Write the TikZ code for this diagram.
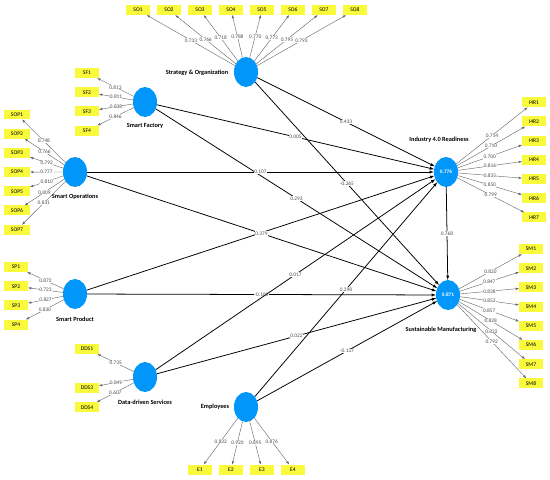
\documentclass[tikz,border=0pt]{standalone}
\usepackage{fontspec}
\setmainfont{Carlito}
\usetikzlibrary{shapes.geometric, arrows}
\definecolor{plsblue}{RGB}{0,150,250}
\definecolor{plsyellow}{RGB}{250,250,60}
\tikzstyle{latent} = [ellipse, minimum width=1.2cm, minimum height=1.5cm, inner sep=0pt, fill=plsblue, text=white, font=\fontsize{7.5}{8}\selectfont\bfseries]
\tikzstyle{indicator} = [rectangle, minimum width=1.2cm, minimum height=0.5cm, inner sep=1pt, fill=plsyellow, font=\fontsize{8}{9}\selectfont]
\tikzstyle{lvname} = [font=\fontsize{9}{10}\selectfont\bfseries]
\tikzstyle{structural} = [line width=1.1pt, ->, >=latex]
\tikzstyle{loading} = [line width=0.6pt, black!60, ->, >=latex]
\tikzstyle{coef} = [fill=white, inner sep=0.5pt, text=black!70, font=\fontsize{7.6}{8}\selectfont]

\begin{document}
\begin{tikzpicture}[x=0.05cm, y=-0.05cm, node distance=0.96cm]
\useasboundingbox (0,0) rectangle (550,480);

% constructs
\node (so) [latent] at (246,72) {};
\node (sf) [latent] at (145,102) {};
\node (sop) [latent] at (75,172) {};
\node (sp) [latent] at (75,294) {};
\node (dds) [latent] at (145,377) {};
\node (emp) [latent] at (246,407) {};
\node (ir) [latent] at (446,172) {0.776};
\node (sm) [latent] at (448,295) {0.871};

\node (soname) [lvname] at (197,73) {Strategy \& Organization};
\node (sfname) [lvname] at (145,126) {Smart Factory};
\node (sopname) [lvname] at (75,197) {Smart Operations};
\node (spname) [lvname] at (75,319) {Smart Product};
\node (ddsname) [lvname] at (145,402) {Data-driven Services};
\node (empname) [lvname] at (215,407) {Employees};
\node (irname) [lvname] at (439,140) {Industry 4.0 Readiness};
\node (smname) [lvname] at (441,330) {Sustainable Manufacturing};

% indicators
\node (so1) [indicator] at (138,10) {SO1};
\node (so2) [indicator, right of=so1, node distance=1.55cm] {SO2};
\node (so3) [indicator, right of=so2, node distance=1.55cm] {SO3};
\node (so4) [indicator, right of=so3, node distance=1.55cm] {SO4};
\node (so5) [indicator, right of=so4, node distance=1.55cm] {SO5};
\node (so6) [indicator, right of=so5, node distance=1.55cm] {SO6};
\node (so7) [indicator, right of=so6, node distance=1.55cm] {SO7};
\node (so8) [indicator, right of=so7, node distance=1.55cm] {SO8};

\node (sf1) [indicator] at (87,73) {SF1};
\node (sf2) [indicator, below of=sf1] {SF2};
\node (sf3) [indicator, below of=sf2] {SF3};
\node (sf4) [indicator, below of=sf3] {SF4};

\node (sop1) [indicator, minimum width=1.3cm] at (17,114.5) {SOP1};
\node (sop2) [indicator, minimum width=1.3cm, below of=sop1] {SOP2};
\node (sop3) [indicator, minimum width=1.3cm, below of=sop2] {SOP3};
\node (sop4) [indicator, minimum width=1.3cm, below of=sop3] {SOP4};
\node (sop5) [indicator, minimum width=1.3cm, below of=sop4] {SOP5};
\node (sop6) [indicator, minimum width=1.3cm, below of=sop5] {SOP6};
\node (sop7) [indicator, minimum width=1.3cm, below of=sop6] {SOP7};

\node (sp1) [indicator] at (16,267) {SP1};
\node (sp2) [indicator, below of=sp1] {SP2};
\node (sp3) [indicator, below of=sp2] {SP3};
\node (sp4) [indicator, below of=sp3] {SP4};

\node (dds1) [indicator] at (87,349) {DDS1};
\node (dds3) [indicator] at (87,388) {DDS3};
\node (dds4) [indicator, below of=dds3] {DDS4};

\node (e1) [indicator] at (200,469.5) {E1};
\node (e2) [indicator, right of=e1, node distance=1.55cm] {E2};
\node (e3) [indicator, right of=e2, node distance=1.55cm] {E3};
\node (e4) [indicator, right of=e3, node distance=1.55cm] {E4};

\node (hr1) [indicator] at (534,102.3) {I4R1};
\node (hr2) [indicator, below of=hr1] {I4R2};
\node (hr3) [indicator, below of=hr2] {I4R3};
\node (hr4) [indicator, below of=hr3] {I4R4};
\node (hr5) [indicator, below of=hr4] {I4R5};
\node (hr6) [indicator, below of=hr5] {I4R6};
\node (hr7) [indicator, below of=hr6] {I4R7};

\node (sm1) [indicator] at (531,249) {SM1};
\node (sm2) [indicator, below of=sm1] {SM2};
\node (sm3) [indicator, below of=sm2] {SM3};
\node (sm4) [indicator, below of=sm3] {SM4};
\node (sm5) [indicator, below of=sm4] {SM5};
\node (sm6) [indicator, below of=sm5] {SM6};
\node (sm7) [indicator, below of=sm6] {SM7};
\node (sm8) [indicator, below of=sm7] {SM8};

% outer loadings
\draw [loading] (so) -- node[coef] {0.733} (so1);
\draw [loading] (so) -- node[coef] {0.766} (so2);
\draw [loading] (so) -- node[coef] {0.718} (so3);
\draw [loading] (so) -- node[coef] {0.788} (so4);
\draw [loading] (so) -- node[coef] {0.770} (so5);
\draw [loading] (so) -- node[coef] {0.773} (so6);
\draw [loading] (so) -- node[coef] {0.795} (so7);
\draw [loading] (so) -- node[coef] {0.793} (so8);

\draw [loading] (sf) -- node[coef] {0.813} (sf1);
\draw [loading] (sf) -- node[coef] {0.811} (sf2);
\draw [loading] (sf) -- node[coef] {0.838} (sf3);
\draw [loading] (sf) -- node[coef] {0.846} (sf4);

\draw [loading] (sop) -- node[coef] {0.748} (sop1);
\draw [loading] (sop) -- node[coef] {0.766} (sop2);
\draw [loading] (sop) -- node[coef] {0.792} (sop3);
\draw [loading] (sop) -- node[coef] {0.777} (sop4);
\draw [loading] (sop) -- node[coef] {0.810} (sop5);
\draw [loading] (sop) -- node[coef] {0.809} (sop6);
\draw [loading] (sop) -- node[coef] {0.831} (sop7);

\draw [loading] (sp) -- node[coef] {0.872} (sp1);
\draw [loading] (sp) -- node[coef] {0.723} (sp2);
\draw [loading] (sp) -- node[coef] {0.827} (sp3);
\draw [loading] (sp) -- node[coef] {0.830} (sp4);

\draw [loading] (dds) -- node[coef] {0.735} (dds1);
\draw [loading] (dds) -- node[coef] {0.849} (dds3);
\draw [loading] (dds) -- node[coef] {0.607} (dds4);

\draw [loading] (emp) -- node[coef] {0.832} (e1);
\draw [loading] (emp) -- node[coef] {0.920} (e2);
\draw [loading] (emp) -- node[coef] {0.895} (e3);
\draw [loading] (emp) -- node[coef] {0.876} (e4);

\draw [loading] (ir) -- node[coef] {0.714} (hr1);
\draw [loading] (ir) -- node[coef] {0.710} (hr2);
\draw [loading] (ir) -- node[coef] {0.700} (hr3);
\draw [loading] (ir) -- node[coef] {0.816} (hr4);
\draw [loading] (ir) -- node[coef] {0.835} (hr5);
\draw [loading] (ir) -- node[coef] {0.850} (hr6);
\draw [loading] (ir) -- node[coef] {0.799} (hr7);

\draw [loading] (sm) -- node[coef] {0.820} (sm1);
\draw [loading] (sm) -- node[coef] {0.847} (sm2);
\draw [loading] (sm) -- node[coef] {0.838} (sm3);
\draw [loading] (sm) -- node[coef] {0.852} (sm4);
\draw [loading] (sm) -- node[coef] {0.857} (sm5);
\draw [loading] (sm) -- node[coef] {0.828} (sm6);
\draw [loading] (sm) -- node[coef] {0.822} (sm7);
\draw [loading] (sm) -- node[coef] {0.792} (sm8);

% inner model
\draw [structural] (sp) -- (ir);
\draw [structural] (emp) -- node[coef] {0.298} (ir);
\draw [structural] (so) -- node[coef] {-0.265} (sm);
\draw [structural] (so) -- node[coef] {0.433} (ir);
\draw [structural] (sf) -- node[coef] {0.005} (ir);
\draw [structural] (sf) -- node[coef] {0.293} (sm);
\draw [structural] (sop) -- node[coef] {0.107} (ir);
\draw [structural] (sop) -- node[coef] {0.379} (sm);
\draw [structural] (sp) -- node[coef] {-0.100} (sm);
\draw [structural] (dds) -- node[coef] {0.017} (ir);
\draw [structural] (dds) -- node[coef] {0.022} (sm);
\draw [structural] (emp) -- node[coef] {-0.137} (sm);
\draw [structural] (ir) -- node[coef] {0.768} (sm);

\end{tikzpicture}
\end{document}
